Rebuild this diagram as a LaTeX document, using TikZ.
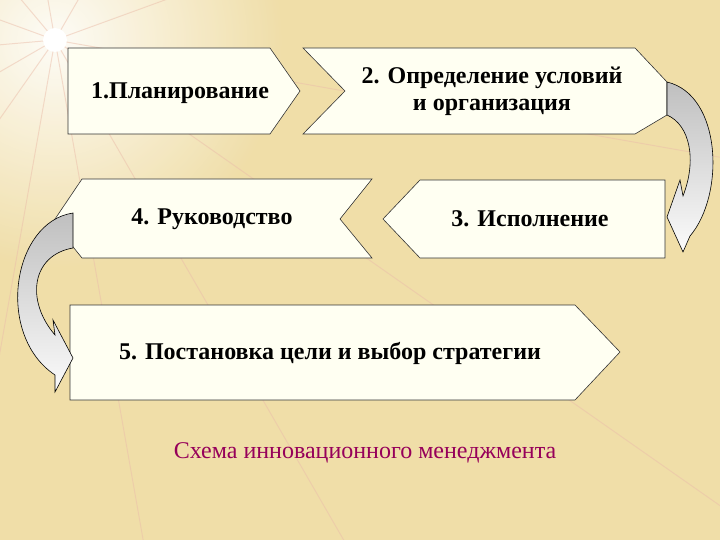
\documentclass[tikz,border=0pt]{standalone}
\usepackage{fontspec}
\setmainfont{Liberation Serif}
\definecolor{bgc}{RGB}{240,222,168}
\definecolor{boxc}{RGB}{255,255,242}
\definecolor{rayc}{RGB}{235,190,170}
\definecolor{titc}{RGB}{150,0,90}
\begin{document}
\begin{tikzpicture}[x=1pt,y=-1pt,
  box/.style={draw=black!80,line width=0.6pt,fill=boxc},
  lab/.style={font=\fontsize{24}{27}\selectfont\bfseries,align=center},
  carrow/.style={draw=black,line width=0.6pt,top color=gray!50,bottom color=white!97!gray}]
\useasboundingbox (0,0) rectangle (720,540);
\fill[bgc] (0,0) rectangle (720,540);
\shade[inner color=white,outer color=bgc,opacity=0.9] (55,40) circle (230);
\foreach \a in {10,35,60,80,100,125,150,175,200,230,260,300,340}
  \draw[rayc,line width=1pt,opacity=0.5] (55,40) -- ++(\a:900);
\fill[white] (55,40) circle (12);
% boxes
\draw[box] (68,48) -- (270,48) -- (300,91) -- (270,134) -- (68,134) -- cycle;
\draw[box] (303,48) -- (635,48) -- (667,82) -- (667,115) -- (635,134) -- (303,134) -- (345,91) -- cycle;
\draw[box] (420,180) -- (665,180) -- (665,258) -- (420,258) -- (383,219) -- cycle;
\draw[box] (82,179) -- (372,179) -- (340,219) -- (372,258) -- (82,258) -- (53,222) -- cycle;
\draw[box] (70,305) -- (575,305) -- (620,352) -- (575,400) -- (70,400) -- cycle;
% curved arrows
\path[carrow] (667,82) .. controls (722,95) and (725,195) .. (690,236) -- (683,252) -- (667,217) -- (680,180) -- (683,196) .. controls (697,160) and (690,125) .. (667,115) -- cycle;
\path[carrow] (73,213) .. controls (12,222) and (-5,335) .. (55,375) -- (55,392) -- (73,358) -- (53,320) -- (55,335) .. controls (25,300) and (32,255) .. (73,248) -- cycle;
% labels
\node[lab] (n1) at (180,93) {1.Планирование};
\node[lab] (n2) at (492,91) {2. Определение условий\\и организация};
\node[lab] (n3) at (530,219) {3. Исполнение};
\node[lab] (n4) at (212,219) {4. Руководство};
\node[lab] (n5) at (330,353) {5. Постановка цели и выбор стратегии};
\node[font=\fontsize{24}{27}\selectfont,text=titc] (t) at (365,453) {Схема инновационного менеджмента};
\end{tikzpicture}
\end{document}
